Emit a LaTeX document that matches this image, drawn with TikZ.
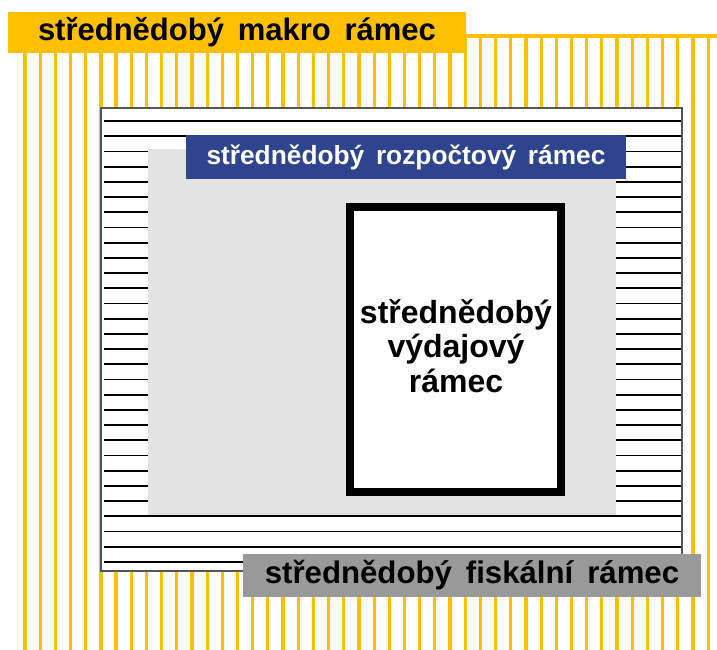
\documentclass[tikz,border=0pt]{standalone}
\usepackage{fontspec}
\setmainfont[WordSpace=1.6]{Liberation Sans}
\definecolor{macroyellow}{RGB}{255,192,0}
\definecolor{budgetblue}{RGB}{47,68,142}
\definecolor{fiscalgray}{RGB}{153,153,153}
\definecolor{panelgray}{RGB}{227,227,227}
\definecolor{framegray}{RGB}{85,85,85}
\tikzset{
  macrostripe/.style={draw=macroyellow, line width=3.2pt},
  ruleline/.style={draw=black, line width=1.8pt},
  labelbox/.style={inner sep=0pt, font=\bfseries},
}
\begin{document}
\begin{tikzpicture}[x=1pt,y=-1pt]
\useasboundingbox (0,0) rectangle (717,650);

% medium-term macro frame: vertical yellow hatching
\begin{scope}
  \clip (0,0) rectangle (717,650);
  \foreach \i in {0,...,45}
    \draw[macrostripe] ({25+15.18*\i},37) -- ({25+15.18*\i},660);
  \draw[macrostripe] (23.5,36) -- (730,36);
\end{scope}

% medium-term fiscal frame: white panel with horizontal rules
\draw[draw=framegray, line width=1.6pt, fill=white] (100.8,107.8) rectangle (682.2,571.2);
\foreach \k in {0,...,29}
  \draw[ruleline] (104,{121+15.2*\k}) -- (681,{121+15.2*\k});

% medium-term budget frame: light grey panel
\fill[panelgray] (148,149) rectangle (616,515);

% medium-term expenditure frame: thick black box
\draw[line width=8pt, fill=white] (350,207) rectangle (561,492);
\node[labelbox, align=center, font=\bfseries\fontsize{32}{34.7}\selectfont]
  (expenditure) at (456,346) {střednědobý\\výdajový\\rámec};

% labels
\node[labelbox, fill=macroyellow, minimum width=458pt, minimum height=41pt,
      font=\bfseries\fontsize{31}{35}\selectfont]
  (macro) at (237,32.5) {střednědobý makro rámec};
\node[labelbox, fill=budgetblue, text=white, minimum width=440pt, minimum height=44pt,
      font=\bfseries\fontsize{26.3}{30}\selectfont]
  (budget) at (406,157) {střednědobý rozpočtový rámec};
\node[labelbox, fill=fiscalgray, minimum width=458pt, minimum height=43pt,
      font=\bfseries\fontsize{31.2}{35}\selectfont]
  (fiscal) at (472,575.5) {střednědobý fiskální rámec};
\end{tikzpicture}
\end{document}
